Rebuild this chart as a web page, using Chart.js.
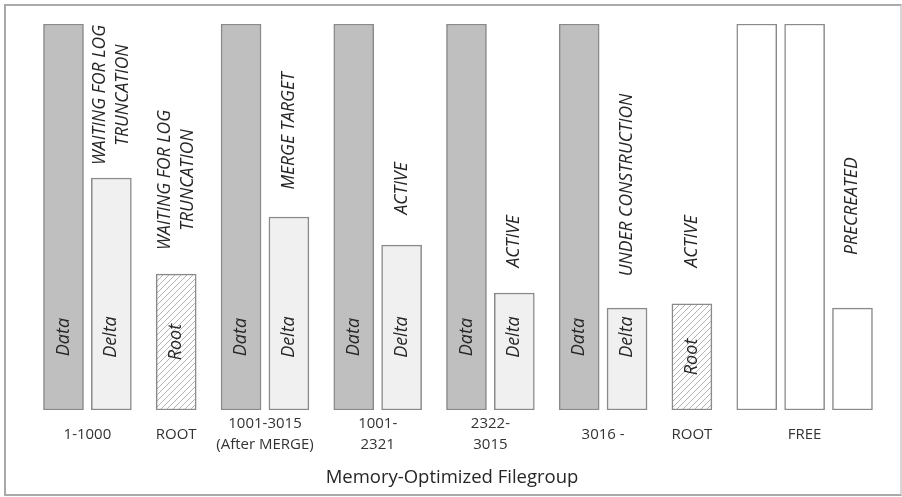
<!DOCTYPE html>
<html>
<head>
<meta charset="utf-8">
<script src="https://cdn.jsdelivr.net/npm/chart.js@4.4.1/dist/chart.umd.min.js"></script>
<style>
  html, body { margin: 0; padding: 0; background: #fff; }
  #wrap { position: relative; width: 902px; height: 497px; }
  #frame { position: absolute; left: 4px; top: 4px; width: 894px; height: 488px;
           border: 2px solid #a9a9a9; border-right-color: #d6d6d6; pointer-events: none; }
</style>
</head>
<body>
<div id="wrap">
  <canvas id="chart" width="902" height="497"></canvas>
  <div id="frame"></div>
</div>
<script>
// grupos de arquivos do filegroup
var groupLabels = [['1-1000'], ['ROOT'], ['1001-3015', '(After MERGE)'], ['1001-', '2321'],
                   ['2322-', '3015'], ['3016 -'], ['ROOT'], ['FREE']];

// um item por arquivo
var fileGroup = [0, 0, 1, 2, 2, 3, 3, 4, 4, 5, 5, 6, 7, 7, 7];
var fileKind = ['Data', 'Delta', 'Root', 'Data', 'Delta', 'Data', 'Delta', 'Data', 'Delta',
                'Data', 'Delta', 'Root', 'Free', 'Free', 'Free'];
// tamanho do arquivo (% do arquivo cheio)
var fileSize = [100, 60.1, 35.2, 100, 50, 100, 42.7, 100, 30.3, 100, 26.4, 27.5, 100, 100, 26.4];

// estados escritos acima dos arquivos
var stateText = [['WAITING FOR LOG', 'TRUNCATION'], ['WAITING FOR LOG', 'TRUNCATION'], ['MERGE TARGET'],
                 ['ACTIVE'], ['ACTIVE'], ['UNDER CONSTRUCTION'], ['ACTIVE'], ['PRECREATED']];
var stateFile = [1, 2, 4, 6, 8, 10, 11, 14];
var stateLevel = [81.6, 59.6, 72.3, 57.4, 43.7, 58.3, 43.7, 52.8];

var GROUP_GAP = 1.355;   // distancia entre grupos (em larguras de arquivo)
var LABEL_LEVEL = 18.9;  // altura do texto dentro das barras Data/Delta

// posicao de cada arquivo no eixo x
var filePos = [];
var p = 0;
for (var i = 0; i < fileGroup.length; i++) {
    if (i > 0) {
        p += (fileGroup[i] == fileGroup[i - 1]) ? 1 : GROUP_GAP;
    }
    filePos.push(p);
}

// centro de cada grupo = posicao do tick
var groupCenter = groupLabels.map(function(l, g) {
    var xs = filePos.filter(function(x, i) { return fileGroup[i] == g; });
    return (xs[0] + xs[xs.length - 1]) / 2;
});

function makeHatch() {
    var c = document.createElement('canvas');
    c.width = 6; c.height = 6;
    var g = c.getContext('2d');
    g.fillStyle = '#ffffff';
    g.fillRect(0, 0, 6, 6);
    g.strokeStyle = '#b3b3b3';
    g.lineWidth = 1;
    g.beginPath();
    g.moveTo(0, 6); g.lineTo(6, 0);
    g.moveTo(-3, 3); g.lineTo(3, -3);
    g.moveTo(3, 9); g.lineTo(9, 3);
    g.stroke();
    return g.createPattern(c, 'repeat');
}

var hatch = makeHatch();
var kindColor = { Data: '#bfbfbf', Delta: '#f0f0f0', Root: hatch, Free: '#ffffff' };

function drawRotated(ctx, lines, x, y, font, lineHeight) {
    ctx.save();
    ctx.translate(x, y);
    ctx.rotate(-Math.PI / 2);
    ctx.font = font;
    ctx.textAlign = 'center';
    ctx.textBaseline = 'middle';
    for (var k = 0; k < lines.length; k++) {
        ctx.fillText(lines[k], 0, (k - (lines.length - 1) / 2) * lineHeight);
    }
    ctx.restore();
}

var textPlugin = {
    id: 'fileText',
    afterDatasetsDraw: function(chart) {
        var ctx = chart.ctx;
        var xs = chart.scales.x, ys = chart.scales.y;
        ctx.fillStyle = '#262626';
        // texto dentro dos arquivos
        for (var i = 0; i < fileKind.length; i++) {
            if (fileKind[i] == 'Free') continue;
            var lvl = (fileKind[i] == 'Root') ? fileSize[i] / 2 : LABEL_LEVEL;
            drawRotated(ctx, [fileKind[i]], xs.getPixelForValue(filePos[i]), ys.getPixelForValue(lvl),
                        'italic 18px "Open Sans"', 20);
        }
        // estados
        for (var s = 0; s < stateText.length; s++) {
            drawRotated(ctx, stateText[s], xs.getPixelForValue(filePos[stateFile[s]]),
                        ys.getPixelForValue(stateLevel[s]), 'italic 17.5px "Open Sans"', 23);
        }
    }
};

var ctx = document.getElementById('chart').getContext('2d');
var myChart = new Chart(ctx, {
    type: 'bar',
    data: {
        datasets: [{
            label: 'Files',
            data: filePos.map(function(x, i) { return { x: x, y: fileSize[i] }; }),
            backgroundColor: fileKind.map(function(k) { return kindColor[k]; }),
            borderColor: '#8a8a8a',
            borderWidth: 1.5,
            borderSkipped: false,
            barThickness: 40
        }]
    },
    options: {
        responsive: false,
        animation: false,
        layout: { padding: { left: 4, right: 2, top: 24, bottom: 0 } },
        plugins: {
            legend: { display: false },
            tooltip: { enabled: false }
        },
        scales: {
            x: {
                type: 'linear',
                min: -1.243,
                max: 17.478,
                offset: false,
                grid: { display: false, drawTicks: false },
                border: { display: false },
                afterFit: function(scale) { scale.height = 87; },
                afterBuildTicks: function(scale) {
                    scale.ticks = groupCenter.map(function(v) { return { value: v }; });
                },
                ticks: {
                    autoSkip: false,
                    maxRotation: 0,
                    padding: 14,
                    crossAlign: 'center',
                    color: '#333333',
                    font: { family: 'Open Sans', size: 15, lineHeight: 1.4 },
                    callback: function(value, index) { return groupLabels[index]; }
                },
                title: {
                    display: true,
                    text: 'Memory-Optimized Filegroup',
                    color: '#262626',
                    font: { family: 'Open Sans', size: 18.5 },
                    padding: { top: 0, bottom: 8 }
                }
            },
            y: {
                display: false,
                min: 0,
                max: 100
            }
        }
    },
    plugins: [textPlugin]
});
</script>
</body>
</html>
